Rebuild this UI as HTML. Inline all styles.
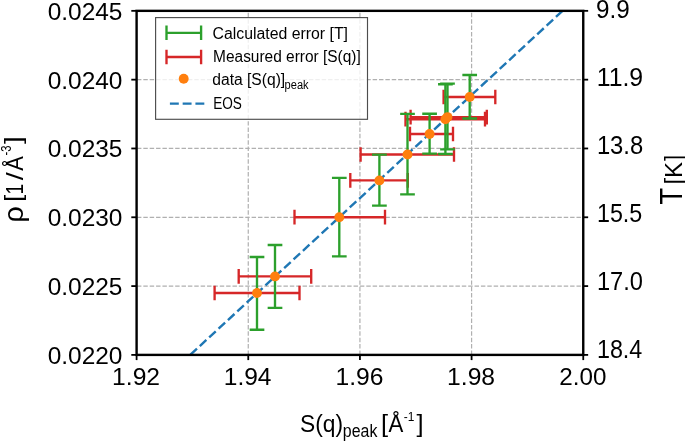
<!DOCTYPE html>
<html><head><meta charset="utf-8"><style>
html,body{margin:0;padding:0;background:#fff;width:685px;height:441px;overflow:hidden;}
svg{display:block;will-change:transform;}
</style></head><body>
<svg width="685" height="441" viewBox="0 0 685 441">
<rect width="685" height="441" fill="#fff"/>
<line x1="248.26" y1="354.9" x2="248.26" y2="10.85" stroke="#b0b0b0" stroke-width="1.2" stroke-dasharray="4.45 1.92" fill="none"/>
<line x1="359.93" y1="354.9" x2="359.93" y2="10.85" stroke="#b0b0b0" stroke-width="1.2" stroke-dasharray="4.45 1.92" fill="none"/>
<line x1="471.59" y1="354.9" x2="471.59" y2="10.85" stroke="#b0b0b0" stroke-width="1.2" stroke-dasharray="4.45 1.92" fill="none"/>
<line x1="136.6" y1="79.66" x2="583.25" y2="79.66" stroke="#b0b0b0" stroke-width="1.2" stroke-dasharray="4.45 1.92" fill="none" stroke-dashoffset="-0.35"/>
<line x1="136.6" y1="148.47" x2="583.25" y2="148.47" stroke="#b0b0b0" stroke-width="1.2" stroke-dasharray="4.45 1.92" fill="none" stroke-dashoffset="-0.35"/>
<line x1="136.6" y1="217.28" x2="583.25" y2="217.28" stroke="#b0b0b0" stroke-width="1.2" stroke-dasharray="4.45 1.92" fill="none" stroke-dashoffset="-0.35"/>
<line x1="136.6" y1="286.09" x2="583.25" y2="286.09" stroke="#b0b0b0" stroke-width="1.2" stroke-dasharray="4.45 1.92" fill="none" stroke-dashoffset="-0.35"/>
<defs><clipPath id="ax"><rect x="136.6" y="10.85" width="446.65" height="344.04999999999995"/></clipPath></defs>
<g clip-path="url(#ax)">
<path d="M214.6 293.0H299.5M214.6 285.65V300.35M299.5 285.65V300.35" stroke="#d62728" stroke-width="2.35" fill="none"/>
<path d="M238.7 276.4H311.2M238.7 269.04999999999995V283.75M311.2 269.04999999999995V283.75" stroke="#d62728" stroke-width="2.35" fill="none"/>
<path d="M294.5 217.2H385.0M294.5 209.85V224.54999999999998M385.0 209.85V224.54999999999998" stroke="#d62728" stroke-width="2.35" fill="none"/>
<path d="M350.3 180.4H407.8M350.3 173.05V187.75M407.8 173.05V187.75" stroke="#d62728" stroke-width="2.35" fill="none"/>
<path d="M360.6 154.5H454.0M360.6 147.15V161.85M454.0 147.15V161.85" stroke="#d62728" stroke-width="2.35" fill="none"/>
<path d="M410.0 134.0H453.0M410.0 126.65V141.35M453.0 126.65V141.35" stroke="#d62728" stroke-width="2.35" fill="none"/>
<path d="M405.5 119.2H485.0M405.5 111.85000000000001V126.55M485.0 111.85000000000001V126.55" stroke="#d62728" stroke-width="2.35" fill="none"/>
<path d="M410.6 117.1H486.8M410.6 109.75V124.44999999999999M486.8 109.75V124.44999999999999" stroke="#d62728" stroke-width="2.35" fill="none"/>
<path d="M443.6 97.0H495.3M443.6 89.65V104.35M495.3 89.65V104.35" stroke="#d62728" stroke-width="2.35" fill="none"/>
<path d="M257.0 257.0V329.7M249.65 257.0H264.35M249.65 329.7H264.35" stroke="#2ca02c" stroke-width="2.35" fill="none"/>
<path d="M275.0 245.0V307.8M267.65 245.0H282.35M267.65 307.8H282.35" stroke="#2ca02c" stroke-width="2.35" fill="none"/>
<path d="M339.3 177.9V256.4M331.95 177.9H346.65000000000003M331.95 256.4H346.65000000000003" stroke="#2ca02c" stroke-width="2.35" fill="none"/>
<path d="M379.4 154.6V205.6M372.04999999999995 154.6H386.75M372.04999999999995 205.6H386.75" stroke="#2ca02c" stroke-width="2.35" fill="none"/>
<path d="M407.5 113.8V194.3M400.15 113.8H414.85M400.15 194.3H414.85" stroke="#2ca02c" stroke-width="2.35" fill="none"/>
<path d="M429.6 113.7V153.6M422.25 113.7H436.95000000000005M422.25 153.6H436.95000000000005" stroke="#2ca02c" stroke-width="2.35" fill="none"/>
<path d="M445.4 84.2V154.0M438.04999999999995 84.2H452.75M438.04999999999995 154.0H452.75" stroke="#2ca02c" stroke-width="2.35" fill="none"/>
<path d="M447.5 83.6V149.3M440.15 83.6H454.85M440.15 149.3H454.85" stroke="#2ca02c" stroke-width="2.35" fill="none"/>
<path d="M469.7 75.0V118.5M462.34999999999997 75.0H477.05M462.34999999999997 118.5H477.05" stroke="#2ca02c" stroke-width="2.35" fill="none"/>
<line x1="190.2" y1="354.9" x2="562.6" y2="10.85" stroke="#1f77b4" stroke-width="2.4" stroke-dasharray="8.9 3.86" stroke-dashoffset="-0.34"/>
<circle cx="257.0" cy="293.0" r="4.95" fill="#ff7f0e"/>
<circle cx="275.0" cy="276.4" r="4.95" fill="#ff7f0e"/>
<circle cx="339.3" cy="217.2" r="4.95" fill="#ff7f0e"/>
<circle cx="379.4" cy="180.4" r="4.95" fill="#ff7f0e"/>
<circle cx="407.5" cy="154.5" r="4.95" fill="#ff7f0e"/>
<circle cx="429.6" cy="134.0" r="4.95" fill="#ff7f0e"/>
<circle cx="445.4" cy="119.2" r="4.95" fill="#ff7f0e"/>
<circle cx="447.5" cy="117.1" r="4.95" fill="#ff7f0e"/>
<circle cx="469.7" cy="97.0" r="4.95" fill="#ff7f0e"/>
</g>
<rect x="136.6" y="10.85" width="446.65" height="344.05" fill="none" stroke="#000" stroke-width="2.4"/>
<line x1="136.60" y1="354.9" x2="136.60" y2="360.09999999999997" stroke="#000" stroke-width="1.8"/>
<line x1="248.26" y1="354.9" x2="248.26" y2="360.09999999999997" stroke="#000" stroke-width="1.8"/>
<line x1="359.93" y1="354.9" x2="359.93" y2="360.09999999999997" stroke="#000" stroke-width="1.8"/>
<line x1="471.59" y1="354.9" x2="471.59" y2="360.09999999999997" stroke="#000" stroke-width="1.8"/>
<line x1="583.25" y1="354.9" x2="583.25" y2="360.09999999999997" stroke="#000" stroke-width="1.8"/>
<line x1="131.29999999999998" y1="10.85" x2="136.6" y2="10.85" stroke="#000" stroke-width="1.8"/>
<line x1="583.25" y1="10.85" x2="588.15" y2="10.85" stroke="#000" stroke-width="1.8"/>
<line x1="131.29999999999998" y1="79.66" x2="136.6" y2="79.66" stroke="#000" stroke-width="1.8"/>
<line x1="583.25" y1="79.66" x2="588.15" y2="79.66" stroke="#000" stroke-width="1.8"/>
<line x1="131.29999999999998" y1="148.47" x2="136.6" y2="148.47" stroke="#000" stroke-width="1.8"/>
<line x1="583.25" y1="148.47" x2="588.15" y2="148.47" stroke="#000" stroke-width="1.8"/>
<line x1="131.29999999999998" y1="217.28" x2="136.6" y2="217.28" stroke="#000" stroke-width="1.8"/>
<line x1="583.25" y1="217.28" x2="588.15" y2="217.28" stroke="#000" stroke-width="1.8"/>
<line x1="131.29999999999998" y1="286.09" x2="136.6" y2="286.09" stroke="#000" stroke-width="1.8"/>
<line x1="583.25" y1="286.09" x2="588.15" y2="286.09" stroke="#000" stroke-width="1.8"/>
<line x1="131.29999999999998" y1="354.90" x2="136.6" y2="354.90" stroke="#000" stroke-width="1.8"/>
<line x1="583.25" y1="354.90" x2="588.15" y2="354.90" stroke="#000" stroke-width="1.8"/>
<rect x="155.6" y="17.6" width="211.9" height="101.7" fill="#fff" fill-opacity="0.8" stroke="#4d4d4d" stroke-width="1.15"/>
<path d="M166.5 32.8H201.1M166.5 25.6V40.0M201.1 25.6V40.0" stroke="#2ca02c" stroke-width="2.35" fill="none"/>
<path d="M166.5 57.0H201.1M166.5 49.8V64.2M201.1 49.8V64.2" stroke="#d62728" stroke-width="2.35" fill="none"/>
<circle cx="183.7" cy="78.7" r="4.95" fill="#ff7f0e"/>
<line x1="169.9" y1="103.6" x2="204.4" y2="103.6" stroke="#1f77b4" stroke-width="2.4" stroke-dasharray="8.9 3.86"/>
<text x="47.66" y="20.05" font-family="Liberation Sans, sans-serif" font-size="23.6" textLength="74.79" lengthAdjust="spacingAndGlyphs">0.0245</text>
<text x="47.66" y="88.76" font-family="Liberation Sans, sans-serif" font-size="23.6" textLength="74.79" lengthAdjust="spacingAndGlyphs">0.0240</text>
<text x="47.66" y="156.97" font-family="Liberation Sans, sans-serif" font-size="23.6" textLength="74.79" lengthAdjust="spacingAndGlyphs">0.0235</text>
<text x="47.66" y="225.78" font-family="Liberation Sans, sans-serif" font-size="23.6" textLength="74.79" lengthAdjust="spacingAndGlyphs">0.0230</text>
<text x="47.66" y="294.59" font-family="Liberation Sans, sans-serif" font-size="23.6" textLength="74.79" lengthAdjust="spacingAndGlyphs">0.0225</text>
<text x="47.66" y="364.00" font-family="Liberation Sans, sans-serif" font-size="23.6" textLength="74.79" lengthAdjust="spacingAndGlyphs">0.0220</text>
<text x="112.12" y="385.00" font-family="Liberation Sans, sans-serif" font-size="23.0" textLength="47.96" lengthAdjust="spacingAndGlyphs">1.92</text>
<text x="223.80" y="385.00" font-family="Liberation Sans, sans-serif" font-size="23.0" textLength="47.68" lengthAdjust="spacingAndGlyphs">1.94</text>
<text x="335.45" y="385.00" font-family="Liberation Sans, sans-serif" font-size="23.0" textLength="47.96" lengthAdjust="spacingAndGlyphs">1.96</text>
<text x="447.11" y="385.00" font-family="Liberation Sans, sans-serif" font-size="23.0" textLength="47.96" lengthAdjust="spacingAndGlyphs">1.98</text>
<text x="559.33" y="385.00" font-family="Liberation Sans, sans-serif" font-size="23.0" textLength="47.12" lengthAdjust="spacingAndGlyphs">2.00</text>
<text x="595.99" y="17.70" font-family="Liberation Sans, sans-serif" font-size="25" textLength="33.74" lengthAdjust="spacingAndGlyphs">9.9</text>
<text x="596.71" y="85.50" font-family="Liberation Sans, sans-serif" font-size="25" textLength="46.49" lengthAdjust="spacingAndGlyphs">11.9</text>
<text x="596.90" y="153.60" font-family="Liberation Sans, sans-serif" font-size="25" textLength="46.32" lengthAdjust="spacingAndGlyphs">13.8</text>
<text x="596.94" y="221.70" font-family="Liberation Sans, sans-serif" font-size="25" textLength="45.36" lengthAdjust="spacingAndGlyphs">15.5</text>
<text x="596.91" y="289.80" font-family="Liberation Sans, sans-serif" font-size="25" textLength="46.07" lengthAdjust="spacingAndGlyphs">17.0</text>
<text x="596.93" y="357.60" font-family="Liberation Sans, sans-serif" font-size="25" textLength="45.39" lengthAdjust="spacingAndGlyphs">18.4</text>
<text x="300.02" y="432.40" font-family="Liberation Sans, sans-serif" font-size="24.2" textLength="43.05" lengthAdjust="spacingAndGlyphs">S(q)</text>
<text x="342.86" y="437.20" font-family="Liberation Sans, sans-serif" font-size="17.5" textLength="34.52" lengthAdjust="spacingAndGlyphs">peak</text>
<text x="380.96" y="432.40" font-family="Liberation Sans, sans-serif" font-size="24.2" textLength="7.09" lengthAdjust="spacingAndGlyphs">[</text>
<text x="388.60" y="432.40" font-family="Liberation Sans, sans-serif" font-size="24.2" textLength="14.83" lengthAdjust="spacingAndGlyphs">Å</text>
<text x="403.86" y="420.80" font-family="Liberation Sans, sans-serif" font-size="13.7" textLength="10.62" lengthAdjust="spacingAndGlyphs">-1</text>
<text x="416.64" y="432.40" font-family="Liberation Sans, sans-serif" font-size="24.2" textLength="7.09" lengthAdjust="spacingAndGlyphs">]</text>
<text transform="translate(22.60 222.83) rotate(-90)" x="0" y="0" font-family="Liberation Sans, sans-serif" font-size="28" textLength="16.67" lengthAdjust="spacingAndGlyphs">ρ</text>
<text transform="translate(21.20 201.74) rotate(-90)" x="0" y="0" font-family="Liberation Sans, sans-serif" font-size="24" textLength="7.02" lengthAdjust="spacingAndGlyphs">[</text>
<text transform="translate(22.50 194.45) rotate(-90)" x="0" y="0" font-family="Liberation Sans, sans-serif" font-size="24" textLength="10.69" lengthAdjust="spacingAndGlyphs">1</text>
<text transform="translate(22.50 180.25) rotate(-90)" x="0" y="0" font-family="Liberation Sans, sans-serif" font-size="24" textLength="8.01" lengthAdjust="spacingAndGlyphs">/</text>
<text transform="translate(22.50 170.80) rotate(-90)" x="0" y="0" font-family="Liberation Sans, sans-serif" font-size="24" textLength="14.51" lengthAdjust="spacingAndGlyphs">Å</text>
<text transform="translate(11.30 155.40) rotate(-90)" x="0" y="0" font-family="Liberation Sans, sans-serif" font-size="14" textLength="10.07" lengthAdjust="spacingAndGlyphs">-3</text>
<text transform="translate(21.20 143.88) rotate(-90)" x="0" y="0" font-family="Liberation Sans, sans-serif" font-size="24" textLength="7.58" lengthAdjust="spacingAndGlyphs">]</text>
<text transform="translate(681.60 204.57) rotate(-90)" x="0" y="0" font-family="Liberation Sans, sans-serif" font-size="30.5" textLength="16.53" lengthAdjust="spacingAndGlyphs">T</text>
<text transform="translate(681.60 184.43) rotate(-90)" x="0" y="0" font-family="Liberation Sans, sans-serif" font-size="24.2" textLength="6.66" lengthAdjust="spacingAndGlyphs">[</text>
<text transform="translate(681.60 177.88) rotate(-90)" x="0" y="0" font-family="Liberation Sans, sans-serif" font-size="24.2" textLength="15.96" lengthAdjust="spacingAndGlyphs">K</text>
<text transform="translate(681.60 160.96) rotate(-90)" x="0" y="0" font-family="Liberation Sans, sans-serif" font-size="24.2" textLength="6.06" lengthAdjust="spacingAndGlyphs">]</text>
<text x="212.46" y="39.00" font-family="Liberation Sans, sans-serif" font-size="16" textLength="135.52" lengthAdjust="spacingAndGlyphs">Calculated error [T]</text>
<text x="213.09" y="62.00" font-family="Liberation Sans, sans-serif" font-size="16" textLength="147.65" lengthAdjust="spacingAndGlyphs">Measured error [S(q)]</text>
<text x="212.27" y="84.60" font-family="Liberation Sans, sans-serif" font-size="16" textLength="72.91" lengthAdjust="spacingAndGlyphs">data [S(q)]</text>
<text x="284.61" y="89.30" font-family="Liberation Sans, sans-serif" font-size="12" textLength="24.02" lengthAdjust="spacingAndGlyphs">peak</text>
<text x="213.14" y="108.50" font-family="Liberation Sans, sans-serif" font-size="16" textLength="28.74" lengthAdjust="spacingAndGlyphs">EOS</text>
</svg>
</body></html>
